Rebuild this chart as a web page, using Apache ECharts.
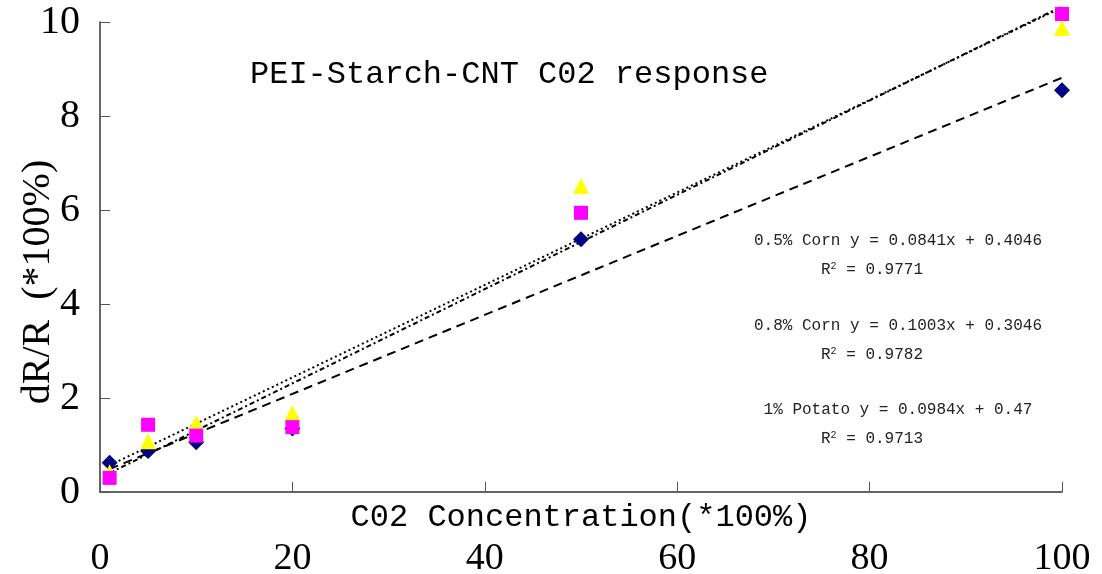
<!DOCTYPE html>
<html><head><meta charset="utf-8">
<script src="https://cdn.jsdelivr.net/npm/echarts@6/dist/echarts.min.js"></script>
<style>html,body{margin:0;padding:0;background:#fff}#c{width:1102px;height:574px}</style>
</head><body><div id="c"></div>
<script>
const xValues = [1, 5, 10, 20, 50, 100];
const corn05 = [0.62, 0.87, 1.06, 1.35, 5.38, 8.55];
const corn08 = [0.30, 1.43, 1.20, 1.38, 5.94, 10.17];
const potato1 = [0.42, 1.08, 1.47, 1.68, 6.51, 9.87];
const seriesNames = ['0.5% Corn', '0.8% Corn', '1% Potato'];
const slopes = [0.0841, 0.1003, 0.0984];
const intercepts = [0.4046, 0.3046, 0.47];
const r2 = ['0.9771', '0.9782', '0.9713'];
const eqTexts = ['0.5% Corn y = 0.0841x + 0.4046', '0.8% Corn y = 0.1003x + 0.3046', '1% Potato y = 0.0984x + 0.47'];
const xTicks = [0, 20, 40, 60, 80, 100];
const yTicks = [0, 2, 4, 6, 8, 10];

const chart = echarts.init(document.getElementById('c'));
const pts = arr => xValues.map((x, i) => [x, arr[i]]);
const trend = k => [[xValues[0], slopes[k] * xValues[0] + intercepts[k]], [xValues[xValues.length - 1], slopes[k] * xValues[xValues.length - 1] + intercepts[k]]];
const serif = 'Liberation Serif';
const mono = 'Liberation Mono';

const eqY = [241, 326, 410];
const graphics = [{
  type: 'text', left: 250, top: 59,
  style: { text: 'PEI-Starch-CNT C02 response', font: '32px "Liberation Mono"', fill: '#000' }
}];
eqTexts.forEach((t, i) => {
  graphics.push({ type: 'text', x: 898, y: eqY[i], style: { text: t, font: '16px "Liberation Mono"', fill: '#222', align: 'center', verticalAlign: 'middle' } });
  graphics.push({ type: 'text', x: 872, y: eqY[i] + 29, style: { text: '{a|R}{s|2}{a| = ' + r2[i] + '}', align: 'center', verticalAlign: 'middle', rich: { a: { font: '16px "Liberation Mono"', fill: '#222' }, s: { font: '10px "Liberation Mono"', fill: '#222', verticalAlign: 'top', padding: [0, 0, 8, 0] } } } });
});

const dashes = [[9, 6], [5, 3, 2, 3], [2, 3]];
chart.setOption({
  animation: false,
  backgroundColor: '#fff',
  grid: { left: 100, right: 40, top: 22, bottom: 82, containLabel: false, outerBoundsMode: 'none' },
  xAxis: {
    type: 'value', min: 0, max: 100, interval: 20,
    name: 'C02 Concentration(*100%)', nameLocation: 'middle', nameGap: 10, nameMoveOverlap: false,
    nameTextStyle: { fontFamily: mono, fontSize: 32, color: '#000', verticalAlign: 'top' },
    axisLine: { onZero: false, lineStyle: { color: '#333', width: 1.5 } },
    axisTick: { inside: true, length: 10, lineStyle: { color: '#555' } },
    axisLabel: { margin: 48, fontFamily: serif, fontSize: 38, color: '#000', formatter: v => xTicks.includes(v) ? String(v) : '' },
    splitLine: { show: false }
  },
  yAxis: {
    type: 'value', min: 0, max: 10, interval: 2,
    name: 'dR/R  (*100%)', nameLocation: 'middle', nameGap: 42, nameRotate: 90, nameMoveOverlap: false,
    nameTextStyle: { fontFamily: serif, fontSize: 40, color: '#000', padding: [0, 50, 0, 0] },
    axisLine: { show: true, onZero: false, lineStyle: { color: '#333', width: 1.5 } },
    axisTick: { show: true, inside: true, length: 10, lineStyle: { color: '#555' } },
    axisLabel: { margin: 20, fontFamily: serif, fontSize: 40, color: '#000', formatter: v => yTicks.includes(v) ? String(v) : '' },
    splitLine: { show: false }
  },
  graphic: graphics,
  series: [
    { name: seriesNames[0] + ' fit', type: 'line', data: trend(0), symbol: 'none', clip: false, lineStyle: { color: '#000', width: 2, type: dashes[0] }, z: 1 },
    { name: seriesNames[1] + ' fit', type: 'line', data: trend(1), symbol: 'none', clip: false, lineStyle: { color: '#000', width: 2, type: dashes[1] }, z: 1 },
    { name: seriesNames[2] + ' fit', type: 'line', data: trend(2), symbol: 'none', clip: false, lineStyle: { color: '#000', width: 2, type: dashes[2] }, z: 1 },
    { name: seriesNames[0], type: 'scatter', data: pts(corn05), symbol: 'diamond', symbolSize: 16, clip: false, itemStyle: { color: '#000080', opacity: 1 }, z: 2 },
    { name: seriesNames[2], type: 'scatter', data: pts(potato1), symbol: 'triangle', symbolSize: 16, clip: false, itemStyle: { color: '#ffff00', opacity: 1 }, z: 3 },
    { name: seriesNames[1], type: 'scatter', data: pts(corn08), symbol: 'rect', symbolSize: 14, clip: false, itemStyle: { color: '#ff00ff', opacity: 1 }, z: 4 }
  ]
});
</script></body></html>
